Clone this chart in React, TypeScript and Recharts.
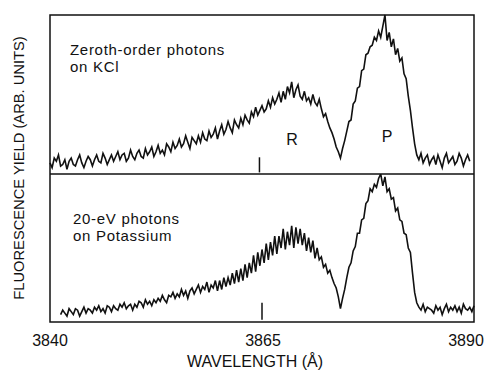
import { LineChart, Line, XAxis, YAxis, ReferenceLine } from "recharts";

const FONT = "'Liberation Sans', Arial, Helvetica, sans-serif";

const WAVELENGTH_START = 3840;
const WAVELENGTH_STEP = 0.25;
const X_TICKS = [3840, 3865, 3890];

// zeroth-order photons on KCl (top panel), arb. units
const KCL_YIELD: (number | null)[] = [
  7, 4, 10, 8, 12, 5, 6, 9, 3, 8,
  10, 6, 5, 9, 12, 7, 4, 8, 11, 9,
  5, 9, 12, 8, 7, 13, 10, 6, 9, 12,
  8, 11, 14, 9, 12, 13, 8, 10, 15, 11,
  9, 13, 15, 11, 10, 16, 12, 14, 17, 11,
  14, 18, 13, 15, 12, 19, 17, 14, 20, 16,
  18, 22, 17, 19, 24, 20, 16, 23, 21, 19,
  24, 20, 26, 22, 21, 27, 23, 25, 29, 22,
  27, 31, 25, 28, 33, 29, 26, 34, 31, 29,
  35, 31, 37, 34, 32, 39, 36, 42, 37, 40,
  43, 39, 41, 46, 42, 48, 44, 47, 51, 45,
  52, 47, 55, 51, 58, 48, 53, 56, 49, 47,
  52, 46, 48, 44, 50, 45, 43, 47, 41, 36,
  38, 33, 29, 26, 22, 17, 14, 10, 16, 21,
  27, 33, 34, 44, 46, 54, 55, 65, 66, 75,
  76, 80, 81, 86, 84, 90, 86, 93, 100, 84,
  89, 80, 85, 75, 79, 71, 73, 63, 60, 49,
  40, 29, 19, 12, 9, 13, 7, 10, 12, 6,
  9, 11, 6, 12, 8, 4, 10, 13, 7, 9,
  11, 6, 8, 13, 10, 5, 9, 12, 8, null, null,
];

// 20-eV photons on potassium (bottom panel), arb. units
const K_YIELD: (number | null)[] = [
  null, null, null, null, null, 5, 8, 6, 4, 9,
  7, 5, 9, 8, 4, 7, 10, 6, 9, 8,
  6, 10, 8, 11, 7, 9, 6, 11, 10, 7,
  11, 9, 8, 12, 10, 13, 9, 11, 12, 8,
  12, 10, 14, 13, 10, 15, 12, 14, 11, 15,
  13, 16, 14, 18, 15, 13, 18, 17, 20, 16,
  19, 17, 22, 18, 21, 16, 21, 23, 19, 22,
  25, 20, 24, 22, 27, 20, 25, 23, 28, 21,
  28, 22, 30, 24, 30, 25, 33, 26, 35, 27,
  36, 28, 39, 30, 40, 33, 45, 34, 47, 38,
  49, 40, 53, 42, 54, 45, 58, 46, 58, 50,
  63, 49, 61, 52, 65, 50, 64, 53, 63, 52,
  60, 48, 57, 47, 55, 43, 50, 42, 44, 37,
  39, 33, 35, 30, 26, 23, 17, 9, 16, 22,
  30, 37, 40, 48, 51, 60, 60, 69, 70, 80,
  82, 90, 88, 93, 91, 97, 100, 92, 98, 88,
  90, 83, 84, 75, 77, 69, 68, 60, 59, 50,
  47, 33, 20, 13, 10, 8, 12, 7, 10, 9,
  8, 6, 11, 8, 10, 5, 9, 12, 7, 10,
  8, 11, 7, 10, 6, 12, 9, 8, 10, 7, 11,
];

const rows = KCL_YIELD.map((v, i) => ({
  wl: WAVELENGTH_START + i * WAVELENGTH_STEP,
  kcl: v,
  k: K_YIELD[i],
}));

function WlTick({ x, y, payload }: any) {
  // last label sits a bit inside the frame in the original
  const nudge = payload.value === 3890 ? -5 : payload.value === 3865 ? 1 : 0;
  return (
    <text
      x={x + nudge}
      y={y}
      dy="0.71em"
      textAnchor="middle"
      fontSize={16}
      fontFamily={FONT}
      fill="#111"
    >
      {payload.value}
    </text>
  );
}

export default function App() {
  return (
    <div
      style={{
        position: "absolute",
        left: 0,
        top: 0,
        width: 487,
        height: 371,
        background: "#fff",
        overflow: "hidden",
      }}
    >
      <div style={{ position: "absolute", left: 0, top: 0 }}>
        <LineChart
          width={487}
          height={180}
          data={rows}
          margin={{ top: 15, right: 13, left: 50, bottom: 6 }}
        >
          <XAxis dataKey="wl" type="number" domain={[3840, 3890]} hide />
          <YAxis type="number" domain={[0, 100]} hide />
          <ReferenceLine
            segment={[
              { x: 3864.7, y: 1 },
              { x: 3864.7, y: 10.5 },
            ]}
            stroke="#111"
            strokeWidth={1.5}
          />
          <Line
            dataKey="kcl"
            type="linear"
            stroke="#111"
            strokeWidth={1.6}
            dot={false}
            isAnimationActive={false}
          />
        </LineChart>
      </div>
      <div style={{ position: "absolute", left: 0, top: 174 }}>
        <LineChart
          width={487}
          height={197}
          data={rows}
          margin={{ top: 0, right: 13, left: 50, bottom: 19 }}
        >
          <XAxis
            dataKey="wl"
            type="number"
            domain={[3840, 3890]}
            ticks={X_TICKS}
            axisLine={false}
            tickLine={false}
            tickMargin={7}
            height={30}
            tick={<WlTick />}
          />
          <YAxis type="number" domain={[0, 100]} hide />
          <ReferenceLine
            segment={[
              { x: 3865, y: 1.5 },
              { x: 3865, y: 13 },
            ]}
            stroke="#111"
            strokeWidth={1.5}
          />
          <Line
            dataKey="k"
            type="linear"
            stroke="#111"
            strokeWidth={1.6}
            dot={false}
            isAnimationActive={false}
          />
        </LineChart>
      </div>
      <svg
        width={487}
        height={371}
        style={{ position: "absolute", left: 0, top: 0, pointerEvents: "none" }}
        fontFamily={FONT}
        fill="#111"
      >
        <rect x={50} y={15} width={424} height={307} fill="none" stroke="#111" strokeWidth={1.5} />
        <line x1={50} y1={174} x2={474} y2={174} stroke="#111" strokeWidth={1.5} />
        <text x={70} y={55} fontSize={15} letterSpacing={0.7}>Zeroth-order photons</text>
        <text x={70} y={72} fontSize={15} letterSpacing={0.7}>on KCl</text>
        <text x={73} y={224} fontSize={15} letterSpacing={0.7}>20-eV photons</text>
        <text x={73} y={241} fontSize={15} letterSpacing={0.7}>on Potassium</text>
        <text x={292} y={145} fontSize={16} textAnchor="middle">R</text>
        <text x={387} y={142} fontSize={16} textAnchor="middle">P</text>
        <text x={255} y={367} fontSize={16} textAnchor="middle">WAVELENGTH (Å)</text>
        <text
          x={0}
          y={0}
          fontSize={14.7}
          textAnchor="middle"
          transform="translate(24 168) rotate(-90)"
        >
          FLUORESCENCE YIELD (ARB. UNITS)
        </text>
      </svg>
    </div>
  );
}
